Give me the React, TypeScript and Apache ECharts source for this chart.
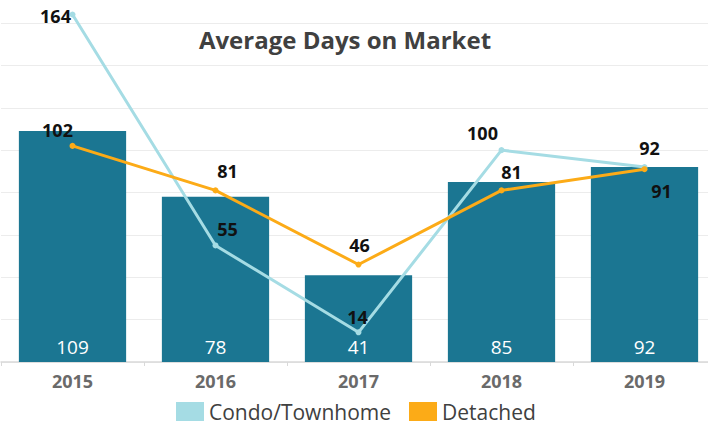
import React, { useEffect, useRef } from "react";
import * as echarts from "echarts";

const years = ["2015", "2016", "2017", "2018", "2019"];
const barValues = [109, 78, 41, 85, 92];
const condoValues = [164, 55, 14, 100, 92];
const detachedValues = [102, 81, 46, 81, 91];

const condoLabelOffsets = [[-17, 1], [12, -16], [-1, -15], [-19, -17], [5, -19]];
const detachedLabelOffsets = [[-15, -16], [12, -19], [1, -20], [10, -18], [17, 22]];

const FONT = "'Open Sans', 'Noto Sans', sans-serif";

export default function App() {
  const ref = useRef<HTMLDivElement>(null);
  useEffect(() => {
    if (!ref.current) return;
    const chart = echarts.init(ref.current, null, { renderer: "svg" });
    const lineLabel = (offsets: number[][]) => (v: number, i: number) => ({
      value: v,
      label: { offset: offsets[i] },
    });
    chart.setOption({
      animation: false,
      backgroundColor: "#ffffff",
      title: {
        text: "Average Days on Market",
        left: 345,
        textAlign: "center",
        top: 27,
        padding: 0,
        textStyle: { fontFamily: FONT, fontSize: 24, fontWeight: "bold", color: "#404040" },
      },
      legend: {
        bottom: 4,
        left: 176,
        padding: 0,
        itemWidth: 28,
        itemHeight: 19,
        itemGap: 18,
        icon: "rect",
        data: ["Condo/Townhome", "Detached"],
        textStyle: { fontFamily: FONT, fontSize: 21, color: "#404040" },
      },
      grid: { left: 1, right: 4, top: 23, bottom: 64 },
      xAxis: {
        type: "category",
        data: years,
        axisLine: { lineStyle: { color: "#d9d9d9", width: 1.5 } },
        axisTick: { show: true, lineStyle: { color: "#d9d9d9" }, length: 4 },
        axisLabel: {
          fontFamily: FONT,
          fontSize: 18,
          fontWeight: "bold",
          color: "#6a6a6a",
          margin: 10,
        },
      },
      yAxis: {
        type: "value",
        min: 0,
        max: 160,
        interval: 20,
        axisLabel: { show: false },
        axisLine: { show: false },
        axisTick: { show: false },
        splitLine: { lineStyle: { color: "#ececec", width: 1 } },
      },
      series: [
        {
          name: "Average",
          type: "bar",
          data: barValues,
          barCategoryGap: "25%",
          itemStyle: { color: "#1b7692" },
          label: {
            show: true,
            position: "insideBottom",
            distance: 6,
            color: "#ffffff",
            fontFamily: FONT,
            fontSize: 19,
          },
        },
        {
          name: "Condo/Townhome",
          type: "line",
          clip: false,
          data: condoValues.map(lineLabel(condoLabelOffsets)),
          itemStyle: { color: "#a5dce4" },
          lineStyle: { color: "#a5dce4", width: 3 },
          symbol: "circle",
          symbolSize: 6,
          label: {
            show: true,
            position: "inside",
            color: "#111111",
            fontFamily: FONT,
            fontSize: 18,
            fontWeight: "bold",
          },
          z: 3,
        },
        {
          name: "Detached",
          type: "line",
          clip: false,
          data: detachedValues.map(lineLabel(detachedLabelOffsets)),
          itemStyle: { color: "#fcab17" },
          lineStyle: { color: "#fcab17", width: 3 },
          symbol: "circle",
          symbolSize: 6,
          label: {
            show: true,
            position: "inside",
            color: "#111111",
            fontFamily: FONT,
            fontSize: 18,
            fontWeight: "bold",
          },
          z: 4,
        },
      ],
    });
    return () => chart.dispose();
  }, []);
  return (
    <div
      style={{
        position: "absolute",
        left: 0,
        top: 0,
        width: 708,
        height: 426,
        overflow: "hidden",
      }}
    >
      <div ref={ref} style={{ width: 720, height: 426 }} />
    </div>
  );
}
